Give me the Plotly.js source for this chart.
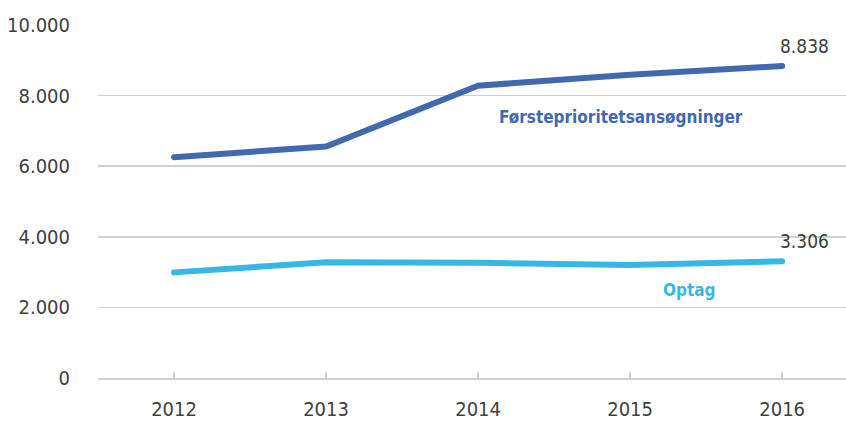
<!DOCTYPE html>
<html>
<head>
<meta charset="utf-8">
<script src="https://cdn.plot.ly/plotly-3.0.1.min.js"></script>
<style>
  html, body { margin: 0; padding: 0; background: #fff; }
  #chart { width: 846px; height: 423px; }
  .scatterlayer path.js-line { stroke-linecap: round; }
</style>
</head>
<body>
<div id="chart"></div>
<script>
const years = ['2012', '2013', '2014', '2015', '2016'];
const foersteprioritet = [6256, 6557, 8281, 8592, 8838];
const optag = [2992, 3276, 3264, 3199, 3306];
const seriesNames = ['Førsteprioritetsansøgninger', 'Optag'];
const endLabels = ['8.838', '3.306'];
const yTicks = [0, 2000, 4000, 6000, 8000, 10000];

const FONT = '"DejaVu Sans Condensed", "Liberation Sans Narrow", sans-serif';
const DARK = '#4169AF';
const LIGHT = '#35B8E6';
const GREY = '#404040';
const lastIdx = years.length - 1;

const traces = [
  { x: years, y: foersteprioritet, type: 'scatter', mode: 'lines', name: seriesNames[0],
    line: { color: DARK, width: 6 }, hoverinfo: 'skip' },
  { x: years, y: optag, type: 'scatter', mode: 'lines', name: seriesNames[1],
    line: { color: LIGHT, width: 6 }, hoverinfo: 'skip' }
];

const layout = {
  width: 846, height: 423,
  margin: { l: 98, r: 0, t: 25, b: 45 },
  paper_bgcolor: '#fff', plot_bgcolor: '#fff',
  showlegend: false,
  separators: ',.',
  font: { family: FONT, color: GREY, size: 20 },
  xaxis: {
    type: 'category', range: [-0.5, 4.42],
    showgrid: false, zeroline: false,
    showline: true, linecolor: '#d0d0d0', linewidth: 1.5,
    ticks: 'inside', ticklen: 6, tickcolor: '#d0d0d0', tickwidth: 1.5,
    tickfont: { family: FONT, size: 20, color: GREY },
    ticklabelstandoff: 12
  },
  yaxis: {
    range: [0, 10000], tickvals: yTicks, tickformat: ',d',
    showgrid: true, gridcolor: '#d0d0d0', gridwidth: 1.5,
    zeroline: false, showline: false, ticks: '',
    tickfont: { family: FONT, size: 20, color: GREY },
    ticklabelstandoff: 27
  },
  annotations: [
    { x: lastIdx, y: foersteprioritet[lastIdx], text: endLabels[0], showarrow: false,
      xanchor: 'center', yanchor: 'middle', xshift: 22, yshift: 20,
      font: { family: FONT, size: 19, color: GREY } },
    { x: lastIdx, y: optag[lastIdx], text: endLabels[1], showarrow: false,
      xanchor: 'center', yanchor: 'middle', xshift: 22, yshift: 20,
      font: { family: FONT, size: 19, color: GREY } },
    { x: 2.94, y: 7400, text: '<b>' + seriesNames[0] + '</b>', showarrow: false,
      xanchor: 'center', yanchor: 'middle',
      font: { family: FONT, size: 17, color: DARK } },
    { x: 3.39, y: 2490, text: '<b>' + seriesNames[1] + '</b>', showarrow: false,
      xanchor: 'center', yanchor: 'middle',
      font: { family: FONT, size: 17, color: LIGHT } }
  ]
};

Plotly.newPlot('chart', traces, layout, { displayModeBar: false, staticPlot: true });
</script>
</body>
</html>
